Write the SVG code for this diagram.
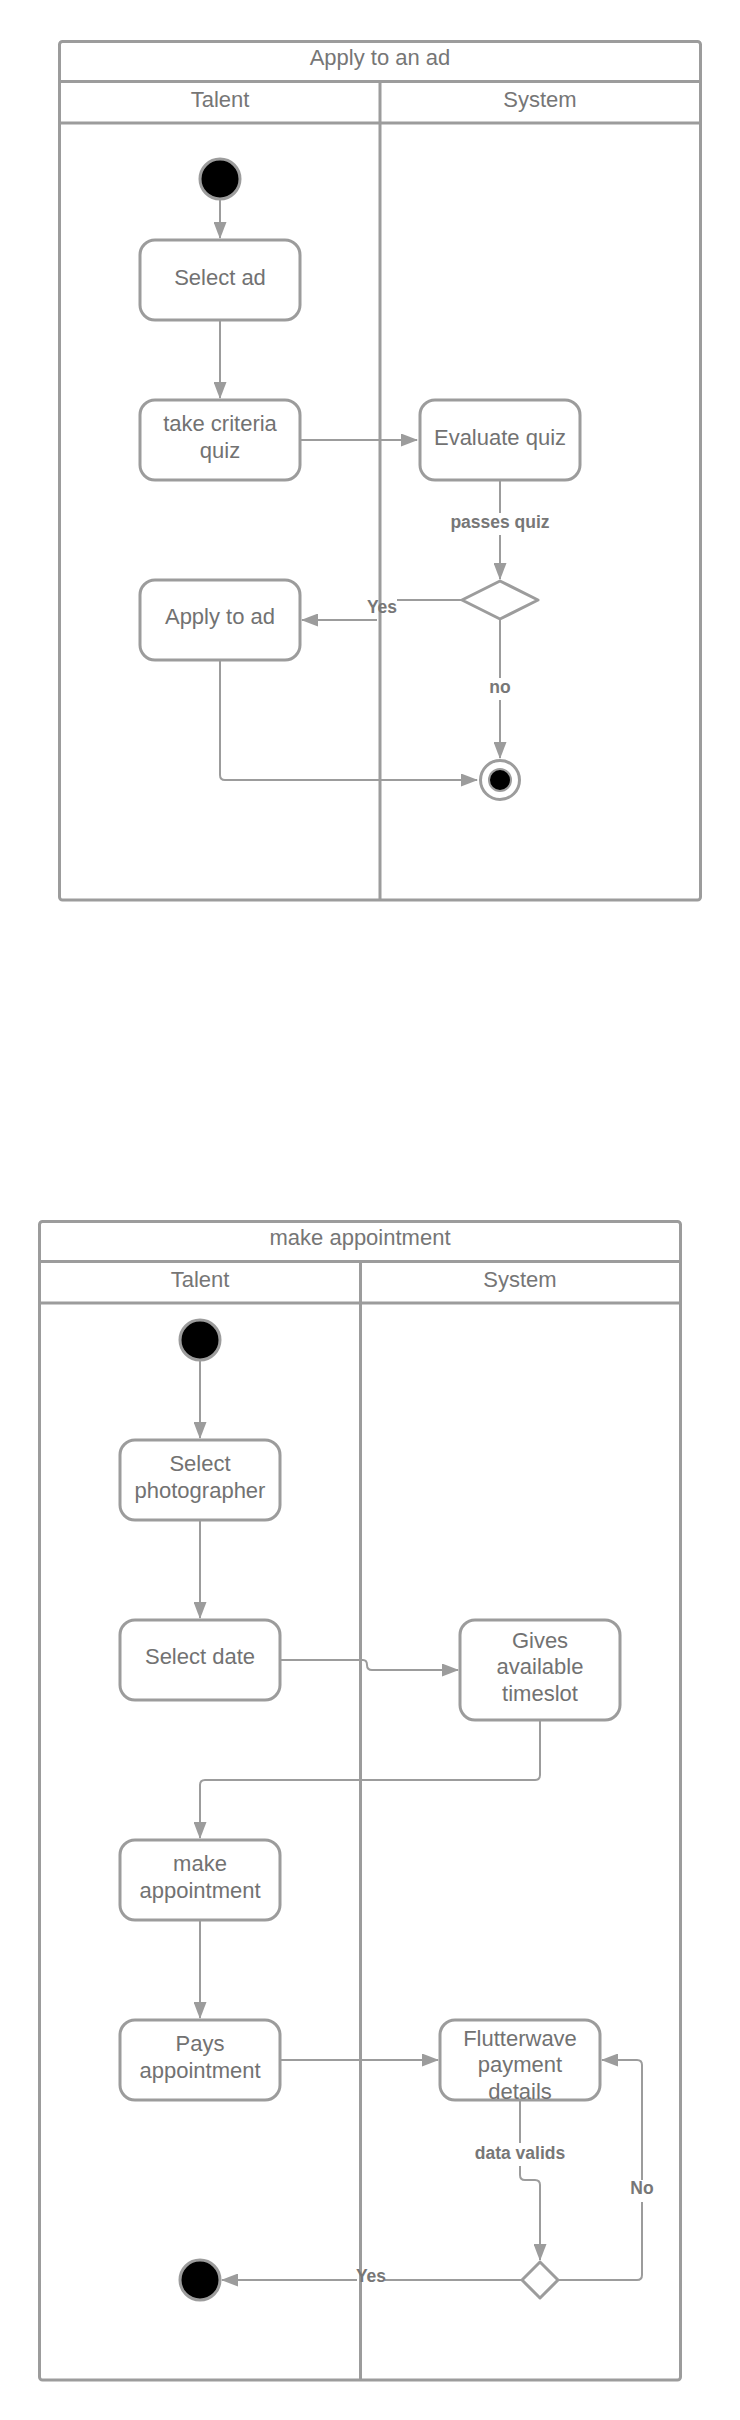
<svg xmlns="http://www.w3.org/2000/svg" width="740" height="2420" viewBox="0 0 740 2420">
<style>
.frame{fill:none;stroke:#9c9c9c;stroke-width:3;}
.sep{stroke:#9c9c9c;stroke-width:3;fill:none;}
.node{fill:#fff;stroke:#9c9c9c;stroke-width:3;}
.start{fill:#000;stroke:#9c9c9c;stroke-width:3;}
.conn{fill:none;stroke:#9c9c9c;stroke-width:2;}
.head{font-family:"Liberation Sans",Arial,sans-serif;font-size:22px;fill:#767676;text-anchor:middle;}
.txt{font-family:"Liberation Sans",Arial,sans-serif;font-size:22px;fill:#727272;text-anchor:middle;}
.lbl{font-family:"Liberation Sans",Arial,sans-serif;font-size:17.5px;font-weight:bold;fill:#777;text-anchor:middle;}
</style>
<defs>
<marker id="arr" markerUnits="userSpaceOnUse" markerWidth="17" markerHeight="13" refX="16" refY="6.5" orient="auto">
<path d="M0,0 L17,6.5 L0,13 z" fill="#9c9c9c"/>
</marker>
</defs>
<rect width="740" height="2420" fill="#fff"/>

<!-- Diagram 1 -->
<g id="pool1">
<rect class="frame" x="59.5" y="41.5" width="641" height="858.5" rx="3"/>
<line class="sep" x1="59.5" y1="81.5" x2="700.5" y2="81.5"/>
<line class="sep" x1="59.5" y1="123" x2="700.5" y2="123"/>
<line class="sep" x1="380" y1="81.5" x2="380" y2="900"/>
<text class="head" x="380" y="65">Apply to an ad</text>
<text class="head" x="220" y="107">Talent</text>
<text class="head" x="540" y="107">System</text>
</g>
<g id="d1-connectors">
<path class="conn" d="M220,200 V238" marker-end="url(#arr)"/>
<path class="conn" d="M220,320 V398" marker-end="url(#arr)"/>
<path class="conn" d="M300,440 H417" marker-end="url(#arr)"/>
<path class="conn" d="M500,480 V513 M500,535 V579" marker-end="url(#arr)"/>
<text class="lbl" x="500" y="528">passes quiz</text>
<path class="conn" d="M462,600 H397 M377,620 H302" marker-end="url(#arr)"/>
<text class="lbl" x="382" y="613">Yes</text>
<path class="conn" d="M500,619 V678 M500,700 V758" marker-end="url(#arr)"/>
<text class="lbl" x="500" y="693">no</text>
<path class="conn" d="M220,660 V775 Q220,780 225,780 H477" marker-end="url(#arr)"/>
</g>
<g id="d1-start"><circle class="start" cx="220" cy="179" r="20"/></g>
<g id="d1-select-ad">
<rect class="node" x="140" y="240" width="160" height="80" rx="15"/>
<text class="txt" x="220" y="285">Select ad</text>
</g>
<g id="d1-take-quiz">
<rect class="node" x="140" y="400" width="160" height="80" rx="15"/>
<text class="txt" x="220" y="431">take criteria</text>
<text class="txt" x="220" y="457.5">quiz</text>
</g>
<g id="d1-evaluate">
<rect class="node" x="420" y="400" width="160" height="80" rx="15"/>
<text class="txt" x="500" y="445">Evaluate quiz</text>
</g>
<g id="d1-decision">
<polygon class="node" points="500,581 538,600 500,619 462,600" stroke-linejoin="round"/>
</g>
<g id="d1-apply">
<rect class="node" x="140" y="580" width="160" height="80" rx="15"/>
<text class="txt" x="220" y="624">Apply to ad</text>
</g>
<g id="d1-end">
<circle cx="500" cy="780" r="19.5" fill="#fff" stroke="#9c9c9c" stroke-width="3"/>
<circle cx="500" cy="780" r="11" fill="#000" stroke="#9c9c9c" stroke-width="2"/>
</g>

<!-- Diagram 2 -->
<g id="pool2">
<rect class="frame" x="39.5" y="1221.5" width="641" height="1158.5" rx="3"/>
<line class="sep" x1="39.5" y1="1261.5" x2="680.5" y2="1261.5"/>
<line class="sep" x1="39.5" y1="1303" x2="680.5" y2="1303"/>
<line class="sep" x1="360.5" y1="1261.5" x2="360.5" y2="2380"/>
<text class="head" x="360" y="1245">make appointment</text>
<text class="head" x="200" y="1287">Talent</text>
<text class="head" x="520" y="1287">System</text>
</g>
<g id="d2-connectors">
<path class="conn" d="M200,1360 V1438" marker-end="url(#arr)"/>
<path class="conn" d="M200,1520 V1618" marker-end="url(#arr)"/>
<path class="conn" d="M280,1660 H363 Q367,1660 367,1665 Q367,1670 372,1670 H458" marker-end="url(#arr)"/>
<path class="conn" d="M540,1720 V1775 Q540,1780 535,1780 H205 Q200,1780 200,1785 V1838" marker-end="url(#arr)"/>
<path class="conn" d="M200,1920 V2018" marker-end="url(#arr)"/>
<path class="conn" d="M280,2060 H438" marker-end="url(#arr)"/>
<path class="conn" d="M520,2100 V2143 M520,2166 V2175 Q520,2180 525,2180 H535 Q540,2180 540,2185 V2260" marker-end="url(#arr)"/>
<text class="lbl" x="520" y="2159">data valids</text>
<path class="conn" d="M558,2280 H637 Q642,2280 642,2275 V2202 M642,2180 V2065 Q642,2060 637,2060 H602" marker-end="url(#arr)"/>
<text class="lbl" x="642" y="2194">No</text>
<path class="conn" d="M522,2280 H385 M357,2280 H222" marker-end="url(#arr)"/>
<text class="lbl" x="371" y="2282">Yes</text>
</g>
<g id="d2-start"><circle class="start" cx="200" cy="1340" r="20"/></g>
<g id="d2-select-photographer">
<rect class="node" x="120" y="1440" width="160" height="80" rx="15"/>
<text class="txt" x="200" y="1471">Select</text>
<text class="txt" x="200" y="1497.5">photographer</text>
</g>
<g id="d2-select-date">
<rect class="node" x="120" y="1620" width="160" height="80" rx="15"/>
<text class="txt" x="200" y="1664">Select date</text>
</g>
<g id="d2-timeslot">
<rect class="node" x="460" y="1620" width="160" height="100" rx="15"/>
<text class="txt" x="540" y="1647.5">Gives</text>
<text class="txt" x="540" y="1674">available</text>
<text class="txt" x="540" y="1700.5">timeslot</text>
</g>
<g id="d2-make-appointment">
<rect class="node" x="120" y="1840" width="160" height="80" rx="15"/>
<text class="txt" x="200" y="1871">make</text>
<text class="txt" x="200" y="1897.5">appointment</text>
</g>
<g id="d2-pays">
<rect class="node" x="120" y="2020" width="160" height="80" rx="15"/>
<text class="txt" x="200" y="2051">Pays</text>
<text class="txt" x="200" y="2077.5">appointment</text>
</g>
<g id="d2-flutterwave">
<rect class="node" x="440" y="2020" width="160" height="80" rx="15"/>
<text class="txt" x="520" y="2045.5">Flutterwave</text>
<text class="txt" x="520" y="2072">payment</text>
<text class="txt" x="520" y="2098.5">details</text>
</g>
<g id="d2-decision">
<polygon class="node" points="540,2262 558,2280 540,2298 522,2280" stroke-linejoin="round"/>
</g>
<g id="d2-end"><circle class="start" cx="200" cy="2280" r="20"/></g>
</svg>
